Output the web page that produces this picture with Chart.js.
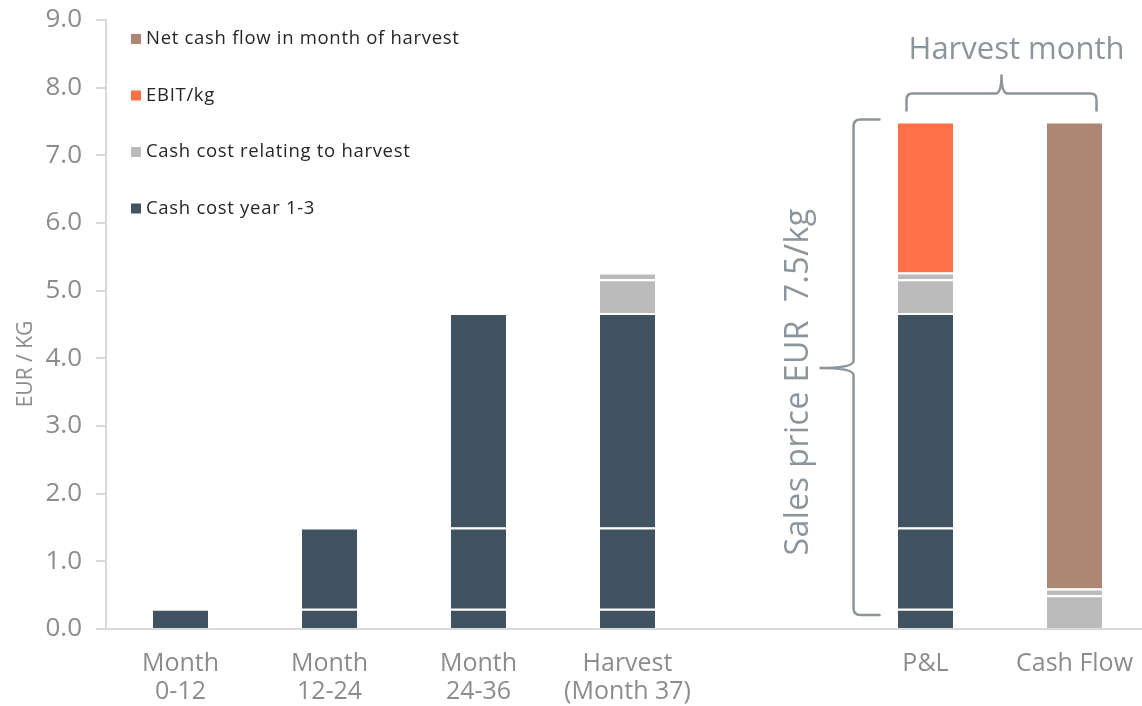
<!DOCTYPE html>
<html>
<head>
<meta charset="utf-8">
<script src="https://cdn.jsdelivr.net/npm/chart.js@4"></script>
<style>
  html, body { margin: 0; padding: 0; background: #fff; overflow: hidden; }
  #wrap { width: 1149px; height: 706px; position: relative; }
</style>
</head>
<body>
<div id="wrap"><canvas id="costChart"></canvas></div>
<script>
// categories (empty slot separates the harvest month view)
var categories = [['Month', '0-12'], ['Month', '12-24'], ['Month', '24-36'], ['Harvest', '(Month 37)'], '', 'P&L', 'Cash Flow'];

// cash cost year 1-3, one piece per year
var costYear1 = [0.3, 0.3, 0.3, 0.3, null, 0.3, null];
var costYear2 = [null, 1.2, 1.2, 1.2, null, 1.2, null];
var costYear3 = [null, null, 3.17, 3.17, null, 3.17, null];
// cash cost relating to harvest
var harvestCost = [null, null, null, 0.5, null, 0.5, 0.5];
var harvestCostOther = [null, null, null, 0.1, null, 0.1, 0.1];
var ebitPerKg = [null, null, null, null, null, 2.23, null];
var netCashFlow = [null, null, null, null, null, null, 6.9];

var yMin = 0, yMax = 9, yStep = 1;
var salesPrice = 7.5;

var legendLabels = ['Net cash flow in month of harvest', 'EBIT/kg', 'Cash cost relating to harvest', 'Cash cost year 1-3'];
var legendColors = ['#ad8675', '#ff6f48', '#bbbbbb', '#415361'];

var FONT = "'Open Sans', 'DejaVu Sans', sans-serif";
var NOTE = '#8a959e';

function seg(label, data, color) {
    return {
        label: label,
        data: data,
        backgroundColor: color,
        borderColor: '#ffffff',
        borderWidth: { top: 2, bottom: 0, left: 0, right: 0 },
        borderSkipped: false,
        barPercentage: 0.37,
        categoryPercentage: 1.0
    };
}

// brace drawn with rounded corners: horizontal one pointing up
function braceUp(ctx, x1, x2, yLine, yEnd, yTip) {
    var xm = (x1 + x2) / 2, r = 6;
    ctx.beginPath();
    ctx.moveTo(x1, yEnd);
    ctx.lineTo(x1, yLine + r);
    ctx.quadraticCurveTo(x1, yLine, x1 + r, yLine);
    ctx.lineTo(xm - r, yLine);
    ctx.quadraticCurveTo(xm, yLine, xm, yTip);
    ctx.quadraticCurveTo(xm, yLine, xm + r, yLine);
    ctx.lineTo(x2 - r, yLine);
    ctx.quadraticCurveTo(x2, yLine, x2, yLine + r);
    ctx.lineTo(x2, yEnd);
    ctx.stroke();
}

// vertical brace pointing left
function braceLeft(ctx, y1, y2, xLine, xEnd, xTip, yMid) {
    var r = 7;
    ctx.beginPath();
    ctx.moveTo(xEnd, y1);
    ctx.lineTo(xLine + r, y1);
    ctx.quadraticCurveTo(xLine, y1, xLine, y1 + r);
    ctx.lineTo(xLine, yMid - r);
    ctx.quadraticCurveTo(xLine, yMid, xTip, yMid);
    ctx.quadraticCurveTo(xLine, yMid, xLine, yMid + r);
    ctx.lineTo(xLine, y2 - r);
    ctx.quadraticCurveTo(xLine, y2, xLine + r, y2);
    ctx.lineTo(xEnd, y2);
    ctx.stroke();
}

var notesPlugin = {
    id: 'notes',
    afterDraw: function (chart) {
        var ctx = chart.ctx;
        var x = chart.scales.x, y = chart.scales.y;
        var area = chart.chartArea;
        ctx.save();

        // legend, top-left inside the plot
        ctx.font = '18.5px ' + FONT;
        ctx.textBaseline = 'middle';
        ctx.textAlign = 'left';
        ctx.letterSpacing = '0.7px';
        for (var i = 0; i < legendLabels.length; i++) {
            var ly = area.top + 19 + i * 56.5;
            ctx.fillStyle = legendColors[i];
            ctx.fillRect(area.left + 25, ly - 5, 10, 10);
            ctx.fillStyle = '#262626';
            ctx.fillText(legendLabels[i], area.left + 40, ly);
        }
        ctx.letterSpacing = '0px';

        // y axis title
        ctx.save();
        ctx.translate(26, 364);
        ctx.rotate(-Math.PI / 2);
        ctx.textAlign = 'center';
        ctx.fillStyle = '#8c8c8c';
        ctx.font = '21px ' + FONT;
        ctx.fillText('EUR / KG', 0, 0);
        ctx.restore();

        ctx.strokeStyle = NOTE;
        ctx.lineWidth = 2.5;
        ctx.lineCap = 'round';

        // harvest month brace over P&L and Cash Flow
        var xl = x.getPixelForValue(5) - 19;
        var xr = x.getPixelForValue(6) + 22;
        var top = y.getPixelForValue(salesPrice);
        braceUp(ctx, xl, xr, top - 28, top - 11, top - 47);
        ctx.fillStyle = NOTE;
        ctx.textAlign = 'center';
        ctx.font = '31px ' + FONT;
        ctx.fillText('Harvest month', (xl + xr) / 2 + 15, top - 71);

        // sales price brace left of P&L
        var y0 = y.getPixelForValue(0);
        var xb = x.getPixelForValue(5) - 72;
        braceLeft(ctx, top - 2, y0 - 14, xb, xb + 26, xb - 34, 368);
        ctx.save();
        ctx.translate(xb - 55, 382);
        ctx.rotate(-Math.PI / 2);
        ctx.font = '32px ' + FONT;
        ctx.letterSpacing = '0.5px';
        ctx.fillText('Sales price EUR  7.5/kg', 0, 0);
        ctx.restore();

        ctx.restore();
    }
};

var ctx = document.getElementById('costChart').getContext('2d');
var costChart = new Chart(ctx, {
    type: 'bar',
    data: {
        labels: categories,
        datasets: [
            seg('Cash cost year 1-3', costYear1, legendColors[3]),
            seg('Cash cost year 1-3', costYear2, legendColors[3]),
            seg('Cash cost year 1-3', costYear3, legendColors[3]),
            seg('Cash cost relating to harvest', harvestCost, legendColors[2]),
            seg('Cash cost relating to harvest', harvestCostOther, legendColors[2]),
            seg('EBIT/kg', ebitPerKg, legendColors[1]),
            seg('Net cash flow in month of harvest', netCashFlow, legendColors[0])
        ]
    },
    options: {
        responsive: true,
        maintainAspectRatio: false,
        animation: false,
        layout: { padding: { top: 20, right: 0, left: 0, bottom: 0 } },
        plugins: {
            legend: { display: false },
            tooltip: { enabled: false }
        },
        scales: {
            x: {
                stacked: true,
                grid: { display: false },
                border: { display: true, color: '#d9d9d9', width: 2 },
                ticks: {
                    color: '#8c8c8c',
                    font: { family: FONT, size: 25, lineHeight: 1.15 },
                    padding: 12,
                    maxRotation: 0,
                    autoSkip: false
                },
                afterFit: function (scale) { scale.height = 77; }
            },
            y: {
                stacked: true,
                min: yMin,
                max: yMax,
                grid: {
                    display: true,
                    drawOnChartArea: false,
                    drawTicks: true,
                    tickLength: 10,
                    color: '#d9d9d9',
                    lineWidth: 2
                },
                border: { display: true, color: '#d9d9d9', width: 2 },
                ticks: {
                    stepSize: yStep,
                    color: '#8c8c8c',
                    font: { family: FONT, size: 26 },
                    padding: 14,
                    callback: function (v) { return v.toFixed(1); }
                },
                afterFit: function (scale) {
                    scale.width = 106;
                    scale.paddingTop = 0;
                    scale.paddingBottom = 0;
                }
            }
        }
    },
    plugins: [notesPlugin]
});
</script>
</body>
</html>
